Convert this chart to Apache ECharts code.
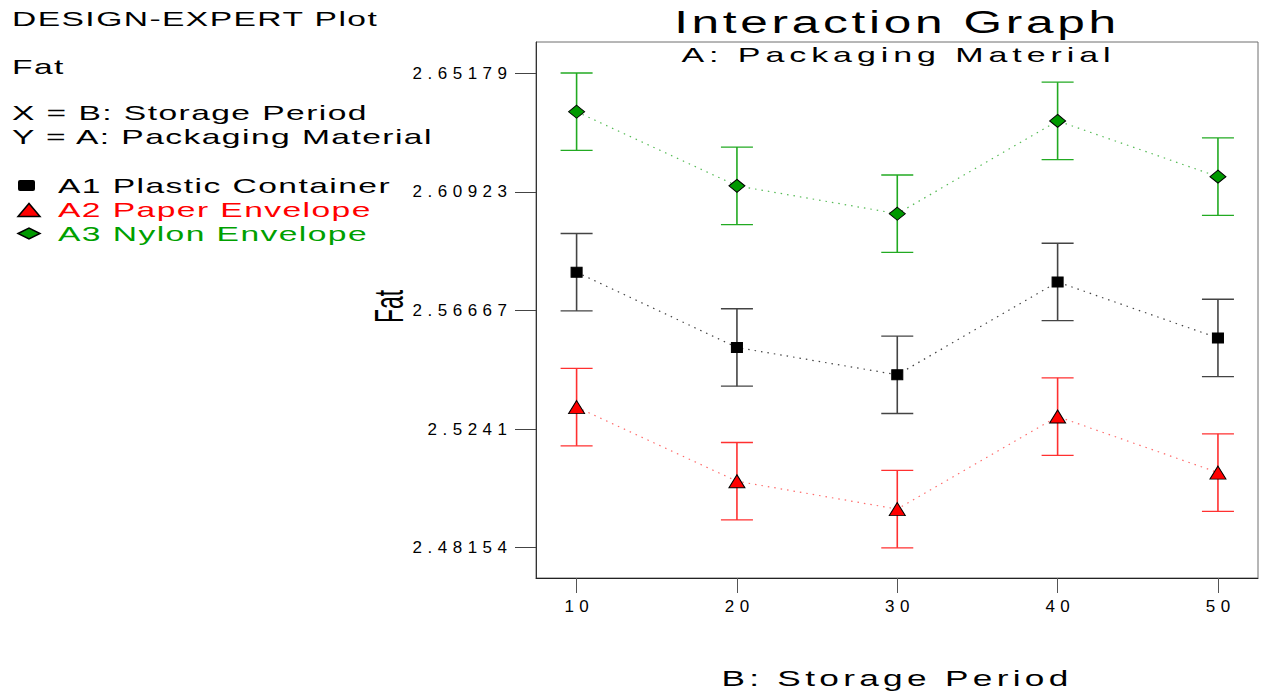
<!DOCTYPE html>
<html>
<head>
<meta charset="utf-8">
<title>Interaction Graph</title>
<script src="https://cdn.jsdelivr.net/npm/echarts@6/dist/echarts.min.js"></script>
<style>
html, body { margin: 0; padding: 0; background: #ffffff; }
#chart { width: 1263px; height: 696px; }
/* letter spacing groups, selected by a leading (non-existent) family name */
text[style*="lsAnno"] { letter-spacing: 0.9px; }
text[style*="lsTitle"] { letter-spacing: 2.3px; }
text[style*="lsSub"] { letter-spacing: 2.9px; }
text[style*="lsXName"] { letter-spacing: 2.7px; }
text[style*="lsTick"] { letter-spacing: 5.5px; }
</style>
</head>
<body>
<div id="chart"></div>
<script>
// ---------------- data ----------------
const periods = [10, 20, 30, 40, 50];                         // B: Storage Period
const plasticContainer = [2.5804, 2.5534, 2.5436, 2.5769, 2.5568]; // A1
const paperEnvelope    = [2.5320, 2.5054, 2.4954, 2.5286, 2.5085]; // A2
const nylonEnvelope    = [2.6380, 2.6114, 2.6014, 2.6347, 2.6147]; // A3
const errorHalf = 0.0139;                                      // LSD half-bar
const seriesNames = ['A1 Plastic Container', 'A2 Paper Envelope', 'A3 Nylon Envelope'];
const yTicks = [2.48154, 2.5241, 2.56667, 2.60923, 2.65179];
const yTickLabels = ['2.48154', '2.5241', '2.56667', '2.60923', '2.65179'];
const xTicks = [10, 20, 30, 40, 50];
const xTickLabels = ['10', '20', '30', '40', '50'];
const annotationLines = ['DESIGN-EXPERT Plot', 'Fat', 'X = B: Storage Period', 'Y = A: Packaging Material'];
const titleText = 'Interaction Graph';
const subtitleText = 'A: Packaging Material';
const xName = 'B: Storage Period';
const yName = 'Fat';

// ---------------- styles ----------------
const FONT = 'Liberation Sans';
const markerColors = ['#000000', '#ff0000', '#009900'];
const barColors = ['#444444', '#ff3030', '#22aa22'];
const dotColors = ['#444444', '#ff6a6a', '#55bb55'];
const textColors = ['#000000', '#ff0000', '#00a000'];
const symbols = ['rect', 'triangle', 'diamond'];
const symbolSizes = [[11, 10], [16, 13], [16, 13]];
const allValues = [plasticContainer, paperEnvelope, nylonEnvelope];

function nearestLabel(v, ticks, labels) {
  let best = 0;
  for (let i = 1; i < ticks.length; i++) {
    if (Math.abs(ticks[i] - v) < Math.abs(ticks[best] - v)) best = i;
  }
  return labels[best];
}

function errorSeries(idx) {
  const vals = allValues[idx];
  const color = barColors[idx];
  return {
    type: 'custom',
    name: seriesNames[idx] + ' LSD',
    z: 2,
    silent: true,
    data: periods.map((p, i) => [p, vals[i] - errorHalf, vals[i] + errorHalf]),
    encode: { x: 0, y: [1, 2] },
    renderItem: function (params, api) {
      const x = api.value(0);
      const lo = api.coord([x, api.value(1)]);
      const hi = api.coord([x, api.value(2)]);
      const hw = 16;
      return {
        type: 'group',
        children: [
          { type: 'line', shape: { x1: lo[0], y1: lo[1], x2: hi[0], y2: hi[1] }, style: { stroke: color, lineWidth: 1.6 } },
          { type: 'line', shape: { x1: lo[0] - hw, y1: lo[1], x2: lo[0] + hw, y2: lo[1] }, style: { stroke: color, lineWidth: 1.3 } },
          { type: 'line', shape: { x1: hi[0] - hw, y1: hi[1], x2: hi[0] + hw, y2: hi[1] }, style: { stroke: color, lineWidth: 1.3 } }
        ]
      };
    }
  };
}

function lineSeries(idx) {
  const vals = allValues[idx];
  return {
    type: 'line',
    name: seriesNames[idx],
    z: 3,
    data: periods.map((p, i) => [p, vals[i]]),
    symbol: symbols[idx],
    symbolSize: symbolSizes[idx],
    showAllSymbol: true,
    itemStyle: { color: markerColors[idx], borderColor: '#000000', borderWidth: 1 },
    lineStyle: { color: dotColors[idx], width: 1.2, type: [1.5, 5] }
  };
}

function freeText(str, x, y, size, family, color, align, sx) {
  return {
    type: 'text',
    x: x, y: y, scaleX: sx,
    silent: true,
    style: {
      text: str, x: 0, y: 0,
      fontSize: size, fontFamily: family + ', ' + FONT,
      fill: color || '#000000',
      textAlign: align || 'left',
      textVerticalAlign: 'middle', verticalAlign: 'middle'
    }
  };
}

const graphics = [];
// title & subtitle
graphics.push(freeText(titleText, 897, 22.5, 31, 'lsTitle', '#000', 'center', 1.6));
graphics.push(freeText(subtitleText, 898.5, 55, 20, 'lsSub', '#000', 'center', 1.7));
// left annotation
const annoY = [18.5, 66.5, 113, 136.5];
annotationLines.forEach((t, i) => graphics.push(freeText(t, 12, annoY[i], 21, 'lsAnno', '#000', 'left', 1.6)));
// legend (icons + texts)
const legendY = [185.5, 209.5, 233.5];
seriesNames.forEach((t, i) => graphics.push(freeText(t, 58, legendY[i], 21, 'lsAnno', textColors[i], 'left', 1.6)));
graphics.push({ type: 'rect', silent: true, shape: { x: 18, y: 180, width: 17, height: 11, r: 2 }, style: { fill: '#000000' } });
graphics.push({ type: 'polygon', silent: true, shape: { points: [[18, 216.5], [40, 216.5], [29, 203.5]] }, style: { fill: '#ff0000', stroke: '#000000', lineWidth: 1.5 } });
graphics.push({ type: 'polygon', silent: true, shape: { points: [[18, 233.5], [29, 228], [40, 233.5], [29, 239]] }, style: { fill: '#009900', stroke: '#000000', lineWidth: 1.5 } });
// axis names
graphics.push(freeText(xName, 897, 678, 22, 'lsXName', '#000', 'center', 1.6));
graphics.push({
  type: 'text', x: 388.5, y: 306.5, rotation: Math.PI / 2, scaleY: 1.8, silent: true,
  style: { text: yName, x: 0, y: 0, fontSize: 23, fontFamily: FONT, fill: '#000',
           textAlign: 'center', textVerticalAlign: 'middle', verticalAlign: 'middle' }
});

const chart = echarts.init(document.getElementById('chart'), null, { renderer: 'svg' });
chart.setOption({
  animation: false,
  backgroundColor: '#ffffff',
  grid: { left: 536, right: 5, top: 42, bottom: 118, show: true, borderColor: '#6e6e6e', borderWidth: 1 },
  xAxis: {
    type: 'value', min: 7.468, max: 52.498,
    splitLine: { show: false },
    axisLine: { show: true, lineStyle: { color: '#222222', width: 1 } },
    axisTick: { show: true, inside: false, length: 15, customValues: xTicks, lineStyle: { color: '#555555', width: 1 } },
    axisLabel: {
      customValues: xTicks, margin: 20, color: '#000', fontSize: 17,
      fontFamily: 'lsTick, ' + FONT, padding: [0, 0, 0, 5.5],
      formatter: v => nearestLabel(v, xTicks, xTickLabels)
    }
  },
  yAxis: {
    type: 'value', min: 2.47067, max: 2.66302,
    splitLine: { show: false },
    axisLine: { show: true, lineStyle: { color: '#333333', width: 1 } },
    axisTick: { show: true, inside: false, length: 21, customValues: yTicks, lineStyle: { color: '#444444', width: 1 } },
    axisLabel: {
      customValues: yTicks, margin: 23.5, color: '#000', fontSize: 17,
      fontFamily: 'lsTick, ' + FONT,
      formatter: v => nearestLabel(v, yTicks, yTickLabels)
    }
  },
  graphic: graphics,
  series: [errorSeries(0), errorSeries(1), errorSeries(2), lineSeries(0), lineSeries(1), lineSeries(2)]
});
</script>
</body>
</html>
